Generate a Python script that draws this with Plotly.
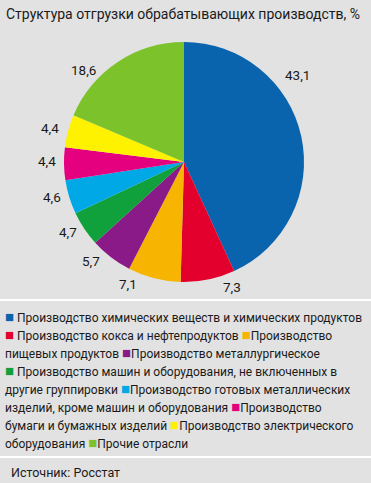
import math
import plotly.graph_objects as go

categories = [
    "Производство химических веществ и химических продуктов",
    "Производство кокса и нефтепродуктов",
    "Производство пищевых продуктов",
    "Производство металлургическое",
    "Производство машин и оборудования, не включенных в другие группировки",
    "Производство готовых металлических изделий, кроме машин и оборудования",
    "Производство бумаги и бумажных изделий",
    "Производство электрического оборудования",
    "Прочие отрасли",
]
values = [43.1, 7.3, 7.1, 5.7, 4.7, 4.6, 4.4, 4.4, 18.6]
colors = ["#0a63ad", "#e3002c", "#f7b400", "#8a1a88", "#10a03c",
          "#00a9e6", "#e4007e", "#fff200", "#7cc22a"]
title = "Структура отгрузки обрабатывающих производств, %"
source = "Источник: Росстат"

# label placement tweaks (style): angular shift in degrees and radius factor
label_shift = [-25, -9.6, 10.3, 5.6, 2.5, 2.3, 1.1, -0.8, -14]
label_rf = [1.19, 1.12, 1.12, 1.13, 1.13, 1.14, 1.14, 1.15, 1.14]

W, H = 371, 483
FONT = "Roboto, Arial, sans-serif"
CX, CY, R = 184, 162, 120  # pie centre / radius in pixels


def py(px):
    return 1 - px / H


def px_x(px):
    return px / W


fig = go.Figure(go.Pie(
    labels=categories, values=values, textinfo="none",
    sort=False, direction="clockwise", rotation=0,
    marker=dict(colors=colors, line=dict(width=0)),
    showlegend=False, hoverinfo="label+value",
    domain=dict(x=[px_x(CX - R), px_x(CX + R)], y=[py(CY + R), py(CY - R)]),
))

annotations = []
total = sum(values)
cum = 0.0
for v, sh, rf in zip(values, label_shift, label_rf):
    mid = (cum + v / 2) / total * 360 + sh
    cum += v
    a = math.radians(mid)
    x = CX + R * rf * math.sin(a)
    y = CY - R * rf * math.cos(a)
    annotations.append(dict(
        text=f"{v:.1f}".replace(".", ","), x=px_x(x), y=py(y),
        xref="paper", yref="paper", xanchor="center", yanchor="middle",
        showarrow=False, font=dict(family=FONT, size=13.5, color="#1a1a1a")))


def sq(c, space=True):
    return (f'<span style="color:{c};font-size:15px">■</span>'
            + (" " if space else ""))


legend_lines = [
    sq(colors[0]) + "Производство химических веществ и химических продуктов",
    sq(colors[1]) + "Производство кокса и нефтепродуктов " + sq(colors[2], False) + "Производство",
    "пищевых продуктов " + sq(colors[3], False) + "Производство металлургическое",
    sq(colors[4]) + "Производство машин и оборудования, не включенных в",
    "другие группировки " + sq(colors[5], False) + "Производство готовых металлических",
    "изделий, кроме машин и оборудования " + sq(colors[6], False) + "Производство",
    "бумаги и бумажных изделий " + sq(colors[7], False) + "Производство электрического",
    "оборудования " + sq(colors[8], False) + "Прочие отрасли",
]

annotations.append(dict(
    text=title, x=px_x(4), y=py(14), xref="paper", yref="paper",
    xanchor="left", yanchor="middle", showarrow=False,
    font=dict(family=FONT, size=14, color="#1a1a1a")))

for i, line in enumerate(legend_lines):
    annotations.append(dict(
        text=line, x=px_x(3), y=py(317 + 18 * i), xref="paper", yref="paper",
        xanchor="left", yanchor="middle", align="left", showarrow=False,
        font=dict(family=FONT, size=12.0, color="#1a1a1a")))

annotations.append(dict(
    text=source, x=px_x(9), y=py(472), xref="paper", yref="paper",
    xanchor="left", yanchor="middle", showarrow=False,
    font=dict(family=FONT, size=12.5, color="#1a1a1a")))

shapes = [
    dict(type="line", xref="paper", yref="paper", x0=0, x1=1, y0=py(300), y1=py(300),
         line=dict(color="white", width=2)),
    dict(type="line", xref="paper", yref="paper", x0=0, x1=1, y0=py(457), y1=py(457),
         line=dict(color="white", width=2)),
]

fig.update_layout(
    width=W, height=H, margin=dict(l=0, r=0, t=0, b=0),
    paper_bgcolor="#e2e2e2", plot_bgcolor="#e2e2e2",
    annotations=annotations, shapes=shapes,
)

fig.write_html("out.html", config={"displayModeBar": False},
               post_script="document.body.style.margin='0';")
